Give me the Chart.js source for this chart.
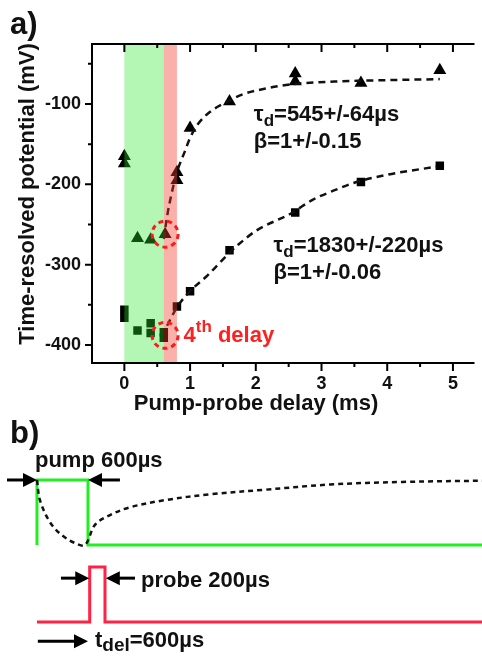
<!DOCTYPE html>
<html>
<head>
<meta charset="utf-8">
<script src="https://cdn.jsdelivr.net/npm/chart.js@4.4.0/dist/chart.umd.min.js"></script>
<style>
  body { margin: 0; background: #fff; width: 482px; height: 657px; overflow: hidden; position: relative; }
  #wrapA { position: absolute; left: 0; top: 0; }
  #wrapB { position: absolute; left: 0; top: 440px; }
</style>
</head>
<body>
<div id="wrapB"><canvas id="chartB" width="482" height="217"></canvas></div>
<div id="wrapA"><canvas id="chartA" width="482" height="450"></canvas></div>
<script>
// === DATA PANEL A ===
const triX = [0, 0, 0.2, 0.4, 0.62, 0.8, 0.8, 1.0, 1.6, 2.6, 2.6, 3.6, 4.8];
const triY = [-165, -174, -267, -269, -262, -185, -195, -130, -97, -62, -72, -74, -58];

const sqX = [0, 0, 0.2, 0.4, 0.4, 0.6, 0.6, 0.8, 1.0, 1.6, 2.6, 3.6, 4.8];
const sqY = [-356, -366, -382, -373, -385, -384, -391, -352, -333, -282, -235, -197, -177];

// dashed fit curves
const fitAX = [0.6, 0.65, 0.72, 0.8, 0.93, 1.0, 1.12, 1.3, 1.52, 1.8, 2.2, 2.6, 3.2, 3.6, 4.2, 4.8];
const fitAY = [-268, -240, -211, -185, -157, -142, -125, -110, -99, -88, -80, -75, -72, -71, -70, -69];
const fitBX = [0.65, 0.8, 1.0, 1.27, 1.6, 1.72, 2.0, 2.54, 2.87, 3.21, 3.5, 4.0, 4.75];
const fitBY = [-376, -353, -333, -313, -285, -276, -258, -236, -219, -207, -198, -188, -178];

const xTickVals = [0, 1, 2, 3, 4, 5];
const xMinorVals = [0.5, 1.5, 2.5, 3.5, 4.5];
const yTickVals = [-400, -300, -200, -100];
const yMinorVals = [-350, -250, -150, -50];

const greenBand = [0, 0.6];
const redBand = [0.6, 0.8];
const circled = [[0.62, -262], [0.62, -388]];

// === DATA PANEL B (schematic, time in µs) ===
const pumpX = [0, 0, 600, 600, 5300];
const pumpY = [0, 1, 1, 0, 0];
const probeX = [0, 620, 620, 800, 800, 5300];
const probeY = [-1.185, -1.185, -0.34, -0.34, -1.185, -1.185];
const potX = [0, 35, 153, 294, 447, 565, 682, 859, 1094, 1506, 2035, 2682, 3447, 4300, 5300];
const potY = [1.0, 0.69, 0.35, 0.15, 0.03, 0.0, 0.31, 0.46, 0.58, 0.69, 0.78, 0.85, 0.93, 0.97, 0.99];

const FONT = "'Liberation Sans', Arial, sans-serif";

function toPts(xs, ys) {
  return xs.map((v, i) => ({ x: v, y: ys[i] }));
}

function richText(ctx, x, y, parts, size, color) {
  let cx = x;
  ctx.fillStyle = color;
  ctx.textBaseline = "alphabetic";
  ctx.textAlign = "left";
  parts.forEach(p => {
    const s = p.small ? Math.round(size * (p.k || 0.75)) : size;
    ctx.font = `bold ${s}px ${FONT}`;
    ctx.fillText(p.t, cx, y + (p.dy || 0));
    cx += ctx.measureText(p.t).width;
  });
}

function arrow(ctx, x1, y1, x2, y2) {
  const dir = Math.sign(x2 - x1);
  ctx.beginPath();
  ctx.moveTo(x1, y1);
  ctx.lineTo(x2 - dir * 10, y2);
  ctx.stroke();
  ctx.beginPath();
  ctx.moveTo(x2, y2);
  ctx.lineTo(x2 - dir * 14, y2 - 7);
  ctx.lineTo(x2 - dir * 14, y2 + 7);
  ctx.closePath();
  ctx.fill();
}

// === PANEL A PLUGIN ===
const panelA = {
  id: "panelA",
  afterDatasetsDraw(chart) {
    const { ctx, chartArea: a, scales: { x, y } } = chart;
    ctx.save();
    // bands over the points, tints them
    const g0 = x.getPixelForValue(greenBand[0]), g1 = x.getPixelForValue(greenBand[1]);
    ctx.fillStyle = "rgba(40,230,40,0.35)";
    ctx.fillRect(g0, a.top, g1 - g0, a.bottom - a.top);
    const r0 = x.getPixelForValue(redBand[0]), r1 = x.getPixelForValue(redBand[1]);
    ctx.fillStyle = "rgba(240,60,40,0.4)";
    ctx.fillRect(r0, a.top, r1 - r0, a.bottom - a.top);

    // red dashed circles
    ctx.strokeStyle = "#ff1a1a";
    ctx.lineWidth = 3;
    ctx.setLineDash([5, 4]);
    circled.forEach(([cx, cy]) => {
      ctx.beginPath();
      ctx.arc(x.getPixelForValue(cx), y.getPixelForValue(cy), 13, 0, 2 * Math.PI);
      ctx.stroke();
    });
    ctx.setLineDash([]);

    // fit annotations
    richText(ctx, x.getPixelForValue(1.97), y.getPixelForValue(-121),
      [{ t: "τ" }, { t: "d", small: true, dy: 5 }, { t: "=545+/-64µs" }], 22, "#111");
    richText(ctx, x.getPixelForValue(1.97), y.getPixelForValue(-155),
      [{ t: "β=1+/-0.15" }], 22, "#111");
    richText(ctx, x.getPixelForValue(2.27), y.getPixelForValue(-284),
      [{ t: "τ" }, { t: "d", small: true, dy: 5 }, { t: "=1830+/-220µs" }], 22, "#111");
    richText(ctx, x.getPixelForValue(2.27), y.getPixelForValue(-318),
      [{ t: "β=1+/-0.06" }], 22, "#111");
    richText(ctx, x.getPixelForValue(0.9), y.getPixelForValue(-396),
      [{ t: "4" }, { t: "th", small: true, dy: -10 }, { t: " delay" }], 22, "#ff2020");
    ctx.restore();
  },
  afterDraw(chart) {
    const { ctx, chartArea: a, scales: { x, y } } = chart;
    ctx.save();
    ctx.strokeStyle = "#000";
    ctx.lineWidth = 2;
    ctx.beginPath();
    ctx.moveTo(a.left, a.top);
    ctx.lineTo(a.left, a.bottom);
    ctx.moveTo(a.left - 1, a.bottom);
    ctx.lineTo(a.right, a.bottom);
    ctx.moveTo(a.left - 1, a.top);
    ctx.lineTo(a.right, a.top);
    ctx.stroke();

    // ticks: bottom & left outward, top inward
    ctx.beginPath();
    xTickVals.forEach(v => {
      const px = x.getPixelForValue(v);
      ctx.moveTo(px, a.bottom); ctx.lineTo(px, a.bottom + 8);
      ctx.moveTo(px, a.top); ctx.lineTo(px, a.top + 8);
    });
    xMinorVals.forEach(v => {
      const px = x.getPixelForValue(v);
      ctx.moveTo(px, a.bottom); ctx.lineTo(px, a.bottom + 4);
      ctx.moveTo(px, a.top); ctx.lineTo(px, a.top + 4);
    });
    yTickVals.forEach(v => {
      const py = y.getPixelForValue(v);
      ctx.moveTo(a.left, py); ctx.lineTo(a.left - 7, py);
    });
    yMinorVals.forEach(v => {
      const py = y.getPixelForValue(v);
      ctx.moveTo(a.left, py); ctx.lineTo(a.left - 4, py);
    });
    ctx.stroke();

    // axis titles
    ctx.fillStyle = "#111";
    ctx.font = `bold 22px ${FONT}`;
    ctx.textAlign = "center";
    ctx.textBaseline = "alphabetic";
    ctx.fillText("Pump-probe delay (ms)", 256, 410);
    ctx.save();
    ctx.translate(34, 194);
    ctx.rotate(-Math.PI / 2);
    ctx.fillText("Time-resolved potential (mV)", 0, 0);
    ctx.restore();

    // panel letters
    ctx.font = `bold 31px ${FONT}`;
    ctx.textAlign = "left";
    ctx.fillText("a)", 10, 34);
    ctx.fillText("b)", 10, 443);
    ctx.restore();
  }
};

const chartA = new Chart(document.getElementById("chartA"), {
  type: "scatter",
  data: {
    datasets: [
      {
        data: toPts(fitAX, fitAY), showLine: true, pointRadius: 0,
        borderColor: "#111", borderWidth: 2.5, borderDash: [7, 5],
        cubicInterpolationMode: "monotone"
      },
      {
        data: toPts(fitBX, fitBY), showLine: true, pointRadius: 0,
        borderColor: "#111", borderWidth: 2.5, borderDash: [7, 5],
        cubicInterpolationMode: "monotone"
      },
      {
        data: toPts(triX, triY), pointStyle: "triangle", pointRadius: 7.5,
        backgroundColor: "#000", borderColor: "#000", borderWidth: 0
      },
      {
        data: toPts(sqX, sqY), pointStyle: "rect", pointRadius: 6,
        backgroundColor: "#000", borderColor: "#000", borderWidth: 0
      }
    ]
  },
  options: {
    responsive: false,
    animation: false,
    layout: { padding: { top: 44, left: 0, right: 0, bottom: 0 } },
    plugins: { legend: { display: false }, tooltip: { enabled: false } },
    scales: {
      x: {
        type: "linear", min: -0.4925, max: 5.328,
        afterBuildTicks: s => { s.ticks = xTickVals.map(v => ({ value: v })); },
        afterFit: s => { s.height = 87; },
        grid: { display: false, drawTicks: false },
        border: { display: false },
        ticks: { color: "#111", font: { family: FONT, size: 18, weight: "bold" }, padding: 10, maxRotation: 0 }
      },
      y: {
        type: "linear", min: -422.4, max: -25.3,
        afterBuildTicks: s => { s.ticks = yTickVals.map(v => ({ value: v })); },
        afterFit: s => { s.width = 92; },
        grid: { display: false, drawTicks: false },
        border: { display: false },
        ticks: { color: "#111", font: { family: FONT, size: 18, weight: "bold" }, padding: 11 }
      }
    }
  },
  plugins: [panelA]
});

// === PANEL B PLUGIN ===
const panelB = {
  id: "panelB",
  afterDatasetsDraw(chart) {
    const { ctx, scales: { x, y } } = chart;
    ctx.save();
    ctx.strokeStyle = "#000";
    ctx.fillStyle = "#000";
    ctx.lineWidth = 3;
    const px = v => x.getPixelForValue(v);
    const py = v => y.getPixelForValue(v);
    // pump width arrows
    arrow(ctx, px(-353), py(1), px(0), py(1));
    arrow(ctx, px(976), py(1), px(600), py(1));
    // probe width arrows
    arrow(ctx, px(282), py(-0.51), px(615), py(-0.51));
    arrow(ctx, px(1153), py(-0.51), px(810), py(-0.51));
    // delay arrow
    arrow(ctx, px(10), py(-1.48), px(600), py(-1.48));

    richText(ctx, px(-24), py(1.2), [{ t: "pump 600µs" }], 22, "#111");
    richText(ctx, px(1224), py(-0.64), [{ t: "probe 200µs" }], 22, "#111");
    richText(ctx, px(682), py(-1.57), [{ t: "t" }, { t: "del", small: true, k: 0.85, dy: 4 }, { t: "=600µs" }], 22, "#111");
    ctx.restore();
  }
};

const chartB = new Chart(document.getElementById("chartB"), {
  type: "line",
  data: {
    datasets: [
      {
        data: toPts(potX, potY), borderColor: "#111", borderWidth: 2.5,
        borderDash: [5, 4], pointRadius: 0, tension: 0.35
      },
      {
        data: toPts(pumpX, pumpY), borderColor: "#22ee22", borderWidth: 3,
        pointRadius: 0, tension: 0
      },
      {
        data: toPts(probeX, probeY), borderColor: "#ff2244", borderWidth: 3,
        pointRadius: 0, tension: 0
      }
    ]
  },
  options: {
    responsive: false,
    animation: false,
    layout: { padding: 0 },
    plugins: { legend: { display: false }, tooltip: { enabled: false } },
    scales: {
      x: { type: "linear", display: false, min: -435, max: 5235 },
      y: { type: "linear", display: false, min: -1.723, max: 1.615 }
    }
  },
  plugins: [panelB]
});
</script>
</body>
</html>
